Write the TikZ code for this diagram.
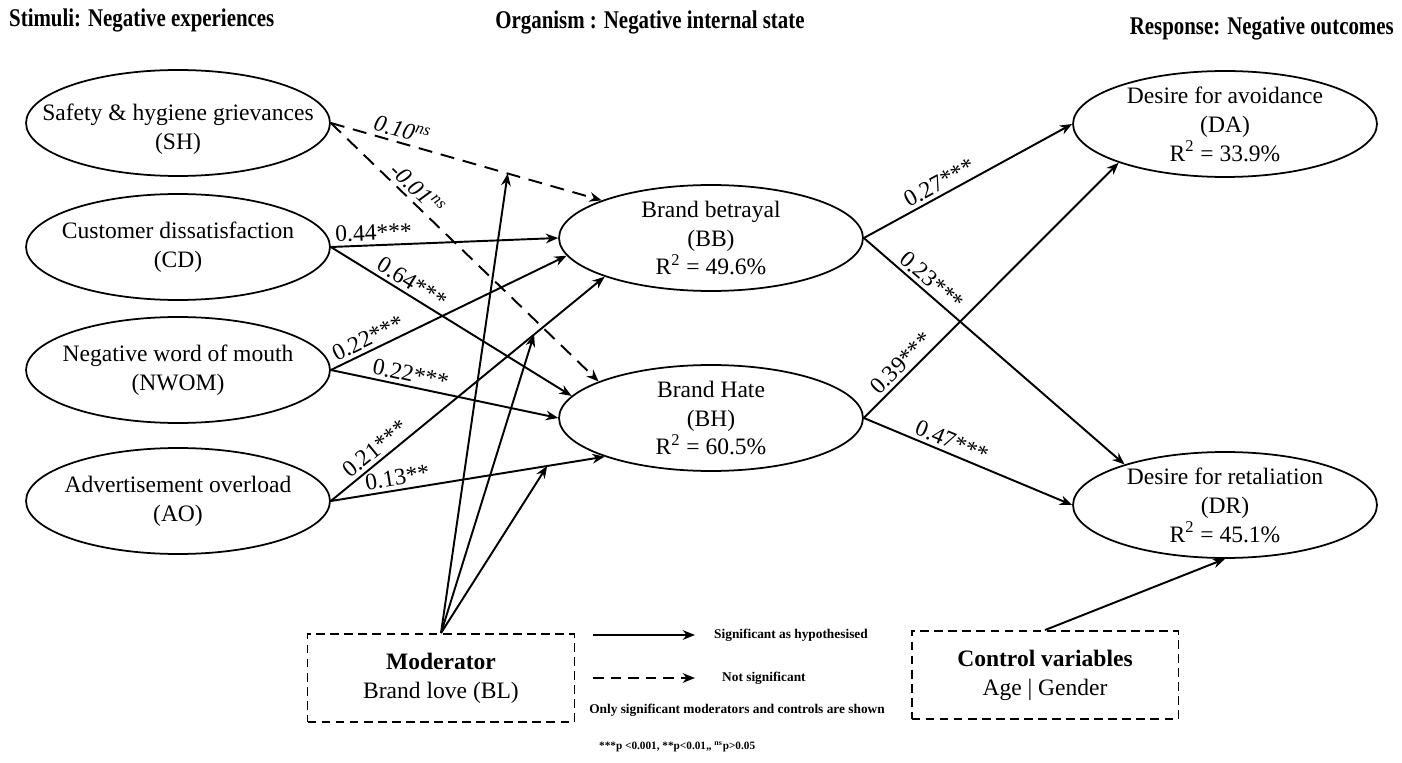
\documentclass[tikz,border=0pt]{standalone}
\usepackage{fontspec}
\setmainfont{Liberation Serif}
\usetikzlibrary{arrows.meta,shapes.geometric}
\tikzset{
    construct/.style={draw,ellipse,line width=1pt,minimum width=6.08cm,minimum height=2.12cm,inner xsep=-0.9cm,inner ysep=-0.3cm,align=center,font=\fontsize{13.4}{16.5}\selectfont},
    link/.style={line width=1.1pt,-{Stealth[length=7pt,width=5.5pt]}},
    nslink/.style={link,dash pattern=on 8pt off 5pt},
    coef/.style={sloped,above,inner sep=2pt,font=\fontsize{13.4}{16}\selectfont},
    dashbox/.style={draw,line width=1.1pt,dash pattern=on 5pt off 3pt,minimum width=5.34cm,minimum height=1.76cm,align=center,font=\fontsize{13.4}{16.5}\selectfont},
    heading/.style={font=\fontsize{14.5}{16}\selectfont\bfseries},
    legend/.style={font=\fontsize{7.6}{9}\selectfont\bfseries}
}
\newcommand{\narrow}[1]{\scalebox{0.82}[1]{#1}}
\begin{document}
\begin{tikzpicture}[x=0.02cm,y=-0.02cm]
    \useasboundingbox (0,0) rectangle (1402,763);
    \node[heading,anchor=west] (stim) at (3,20) {\narrow{Stimuli: Negative experiences}};
    \node[heading] (org) at (650,22) {\narrow{Organism : Negative internal state}};
    \node[heading,anchor=east] (resp) at (1400,28) {\narrow{Response: Negative outcomes}};

    \node[construct] (SH) at (178,123) {\rule{0pt}{16pt}Safety \& hygiene grievances\\(SH)};
    \node[construct] (CD) at (178,247) {Customer dissatisfaction\\(CD)};
    \node[construct] (NWOM) at (178,370) {Negative word of mouth\\(NWOM)};
    \node[construct] (AO) at (178,501) {Advertisement overload\\(AO)};
    \node[construct] (BB) at (711,238) {Brand betrayal\\(BB)\\R\textsuperscript{2} = 49.6\%};
    \node[construct] (BH) at (711,418) {Brand Hate\\(BH)\\R\textsuperscript{2} = 60.5\%};
    \node[construct] (DA) at (1225,124) {Desire for avoidance\\(DA)\\R\textsuperscript{2} = 33.9\%};
    \node[construct] (DR) at (1225,505) {Desire for retaliation\\(DR)\\R\textsuperscript{2} = 45.1\%};

    \node[dashbox] (BL) at (441,678) {\textbf{Moderator}\\Brand love (BL)};
    \node[dashbox] (CV) at (1045,675) {\textbf{Control variables}\\Age | Gender};

    \draw[nslink] (SH.east) -- node[coef,pos=0.25] {\itshape 0.10\textsuperscript{ns}} coordinate[pos=0.653] (m1) (BB.161);
    \draw[nslink] (SH.east) -- node[coef,pos=0.29] {\itshape -0.01\textsuperscript{ns}} (BH.162);
    \draw[link] (CD.east) -- node[coef,pos=0.19] {0.44***} (BB.180);
    \draw[link] (CD.east) -- node[coef,pos=0.31] {0.64***} (BH.171);
    \draw[link] (NWOM.east) -- node[coef,pos=0.18] {0.22***} (BB.187);
    \draw[link] (NWOM.east) -- node[coef,pos=0.34] {0.22***} (BH.180);
    \draw[link] (AO.east) -- node[coef,pos=0.19] {0.21***} coordinate[pos=0.742] (m2) (BB.200);
    \draw[link] (AO.east) -- node[coef,pos=0.25] {0.13**} coordinate[pos=0.79] (m3) (BH.200);

    \draw[link] (BB.east) -- node[coef,pos=0.39] {0.27***} (DA.west);
    \draw[link] (BB.east) -- node[coef,pos=0.23] {0.23***} (DR.158);
    \draw[link] (BH.east) -- node[coef,pos=0.18] {0.39***} (DA.200);
    \draw[link] (BH.east) -- node[coef,pos=0.40] {0.47***} (DR.west);

    \foreach \m in {m1,m2,m3}
        \draw[link] (BL.north) -- (\m);
    \draw[link] (CV.north) -- (DR.south);

    \coordinate (sig0) at (593,635);
    \coordinate (ns0) at (593,678);
    \node[legend,anchor=west] (sig) at (708,635) {Significant as hypothesised};
    \node[legend,anchor=west] (nsig) at (716,678) {Not significant};
    \draw[link,line width=1pt] (sig0) -- ++(102,0);
    \draw[link,line width=1pt,dash pattern=on 6pt off 4pt] (ns0) -- ++(102,0);
    \node[legend] (note) at (737,710) {Only significant moderators and controls are shown};
    \node[legend,font=\fontsize{6.4}{8}\selectfont\bfseries,anchor=west] (pval) at (593,747) {***p <0.001, **p<0.01,, \textsuperscript{ns}p>0.05};
\end{tikzpicture}
\end{document}
